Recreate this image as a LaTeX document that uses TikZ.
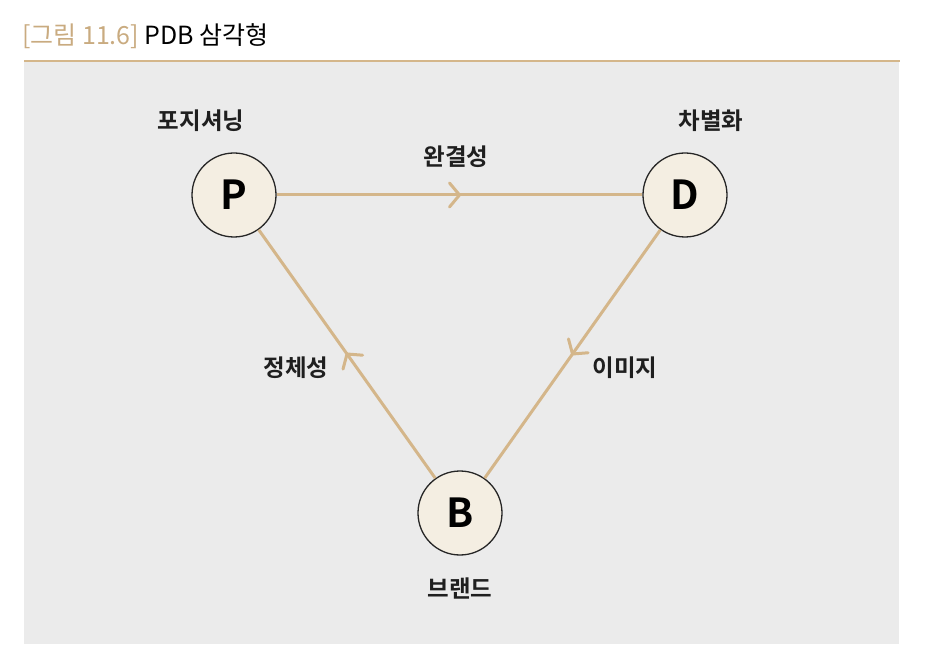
\documentclass[tikz,border=0pt]{standalone}
\usepackage{fontspec}
\setmainfont{Noto Sans CJK KR}
\newfontfamily\boldkr{Noto Sans CJK KR Bold}
\usetikzlibrary{decorations.markings}
\definecolor{pdbtan}{HTML}{D4B68A}
\definecolor{captan}{HTML}{C9AB80}
\definecolor{circfill}{HTML}{F4EEE2}
\definecolor{boxgray}{HTML}{EBEBEB}
\begin{document}
\begin{tikzpicture}[x=1pt, y=-1pt,
    pdbnode/.style={circle, draw=black!85, line width=1.3pt, fill=circfill,
                    minimum size=84pt, inner sep=0pt, font=\boldkr\fontsize{40}{40}\selectfont},
    pdblabel/.style={font=\boldkr\fontsize{23.5}{24}\selectfont, text=black!88},
    pdbedge/.style={draw=pdbtan, line width=3pt,
      postaction={decorate, decoration={markings,
        mark=at position 0.5 with {\draw[pdbtan, line width=3pt, line cap=round, line join=round]
          (-10pt,12pt) -- (0pt,0pt) -- (-10pt,-12pt);}}}}]
    \useasboundingbox (0,0) rectangle (927,668);
    % frame
    \fill[boxgray] (24,62) rectangle (899,644);
    \draw[pdbtan, line width=2.6pt] (24,61) -- (900,61);
    \node[anchor=west, inner sep=0pt, font=\fontsize{25}{25}\selectfont] (title) at (22,36)
      {\textcolor{captan}{[그림 11.6]} PDB 삼각형};
    % nodes
    \node[pdbnode] (P) at (234,195) {P};
    \node[pdbnode] (D) at (685,195) {D};
    \node[pdbnode] (B) at (460,513) {B};
    \node[pdblabel] (lp) at (201,121) {포지셔닝};
    \node[pdblabel] (ld) at (711,121) {차별화};
    \node[pdblabel] (lb) at (460,589) {브랜드};
    % edges
    \draw[pdbedge] (P) -- (D);
    \draw[pdbedge] (D) -- (B);
    \draw[pdbedge] (B) -- (P);
    \node[pdblabel] (lpd) at (456,157) {완결성};
    \node[pdblabel] (lbp) at (296,368) {정체성};
    \node[pdblabel] (ldb) at (625,368) {이미지};
\end{tikzpicture}
\end{document}
